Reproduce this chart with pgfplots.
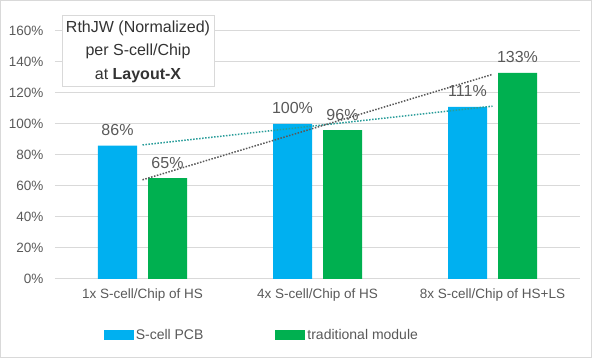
\documentclass[border=0pt]{standalone}
\usepackage{pgfplots}
\pgfplotsset{compat=1.18}
\usepackage{fontspec}
\setmainfont{Liberation Sans}
\definecolor{cblue}{HTML}{00B0F0}
\definecolor{cgreen}{HTML}{00B050}
\definecolor{txt}{HTML}{595959}
\definecolor{gridc}{HTML}{D9D9D9}
\definecolor{trendteal}{HTML}{2A9D9A}
\definecolor{trendgray}{HTML}{595959}
\begin{document}
\begin{tikzpicture}[x=1pt,y=1pt]
\draw[gridc, line width=1pt] (0.5,0.5) rectangle (591.5,357.5);
\begin{axis}[
  at={(55pt,79pt)}, anchor=south west,
  scale only axis, width=525pt, height=248pt,
  xmin=-0.5, xmax=2.5, ymin=0, ymax=160,
  xtick={0,1,2},
  xticklabels={1x S-cell/Chip of HS, 4x S-cell/Chip of HS, 8x S-cell/Chip of HS+LS},
  ytick={0,20,...,160},
  yticklabel={\pgfmathprintnumber{\tick}\%},
  /pgf/number format/assume math mode=true,
  ymajorgrids, grid style={gridc, line width=1pt},
  axis line style={draw=none},
  major tick length=0pt,
  tick label style={font=\fontsize{13.5}{16}\selectfont, text=txt},
  yticklabel style={xshift=-8pt},
  xticklabel style={yshift=-6pt},
  clip=false,
  legend style={draw=none, at={(0.394,-0.226)}, anchor=center,
     legend columns=2, font=\fontsize{14}{16}\selectfont, text=txt,
     /tikz/every even column/.append style={column sep=70pt}},
  legend cell align=left,
]
\addplot[ybar, bar width=39pt, bar shift=-25pt, fill=cblue, draw=none,
  nodes near coords={\pgfmathprintnumber{\pgfplotspointmeta}\%},
  nodes near coords style={font=\fontsize{16}{18}\selectfont, text=txt, anchor=base, yshift=10pt, xshift=-25pt, inner sep=0pt},
  legend image code/.code={\fill[cblue] (0pt,-5pt) rectangle (30pt,5pt);}]
  coordinates {(0,86) (1,100) (2,111)};
\addlegendentry{S-cell PCB}
\addplot[ybar, bar width=39pt, bar shift=25pt, fill=cgreen, draw=none,
  nodes near coords={\pgfmathprintnumber{\pgfplotspointmeta}\%},
  nodes near coords style={font=\fontsize{16}{18}\selectfont, text=txt, anchor=base, yshift=10pt, xshift=25pt, inner sep=0pt},
  legend image code/.code={\fill[cgreen] (0pt,-5pt) rectangle (30pt,5pt);}]
  coordinates {(0,65) (1,96) (2,133)};
\addlegendentry{traditional module}
\addplot[trendteal, line width=1.5pt, dash pattern=on 1.5pt off 1.5pt, forget plot]
  coordinates {(0,86.5) (2,111.5)};
\addplot[trendgray, line width=1.5pt, dash pattern=on 1.5pt off 1.5pt, forget plot]
  coordinates {(0,64) (2,132)};
\end{axis}
\node[draw=gridc, line width=1pt, fill=white, minimum width=152pt, minimum height=71pt,
  align=center, text=black!80, font=\fontsize{16}{23.5}\selectfont, inner sep=0pt]
  at (138,306.5) {RthJW (Normalized)\\per S-cell/Chip\\at \textbf{Layout-X}};
\end{tikzpicture}
\end{document}
